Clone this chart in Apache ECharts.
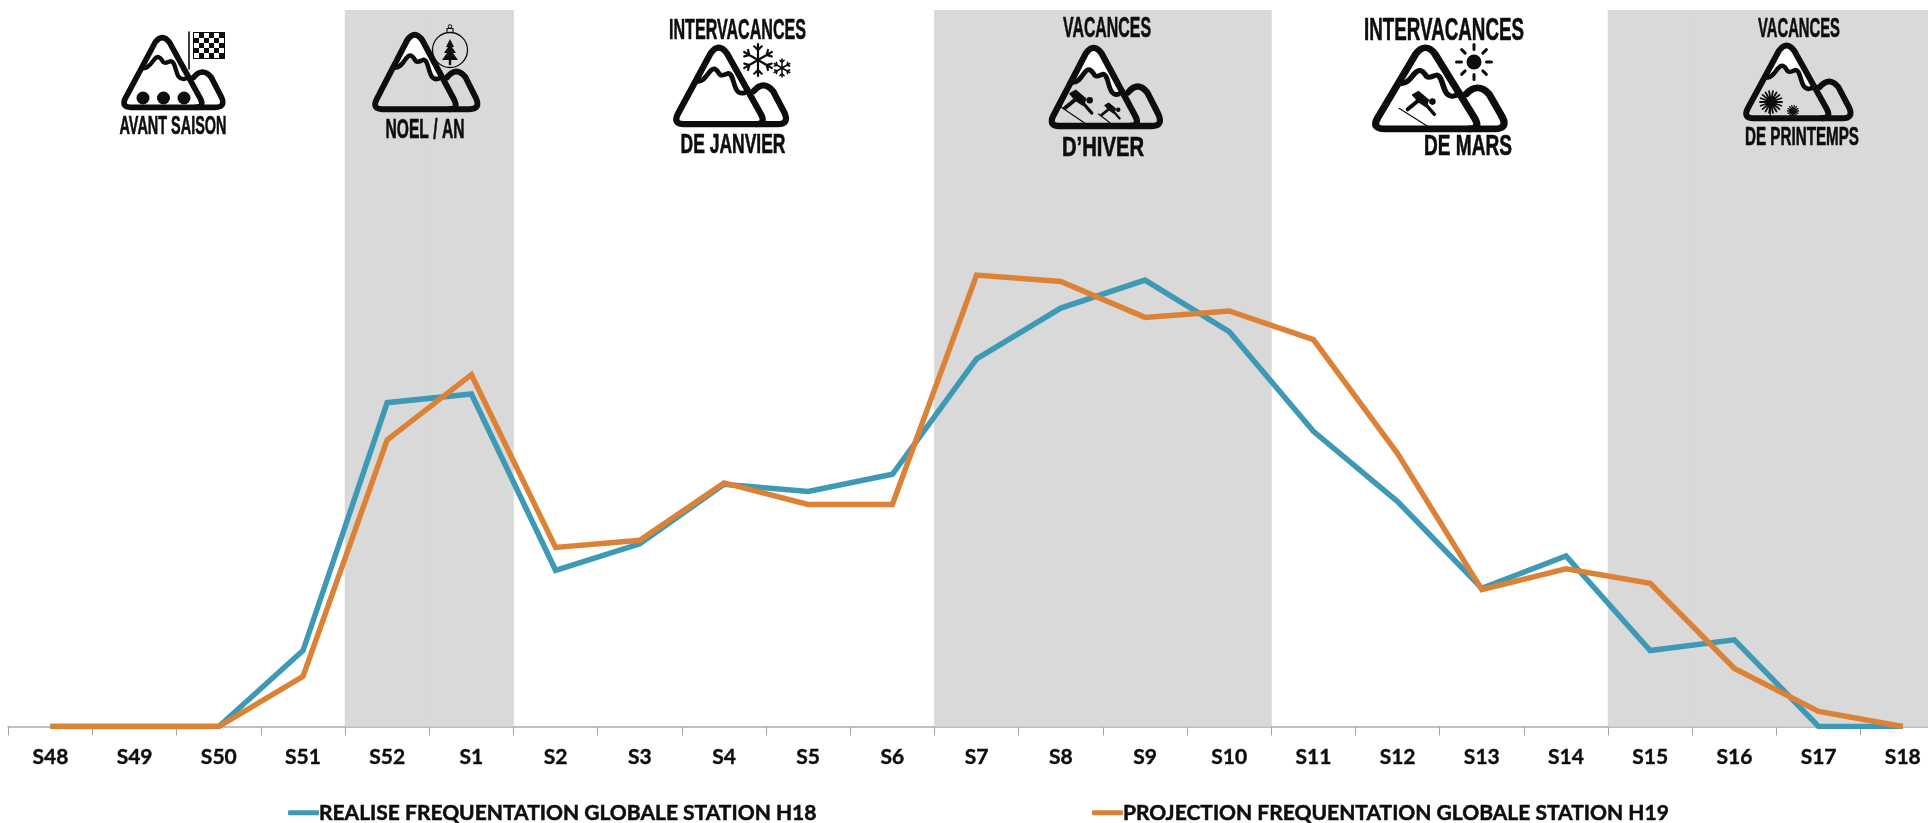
<!DOCTYPE html>
<html lang="fr">
<head>
<meta charset="utf-8">
<title>Fréquentation globale station</title>
<style>
  html, body { margin: 0; padding: 0; background: #fff; overflow: hidden; width: 1928px; height: 823px; }
  /* La dernière semaine déborde à droite : le graphique est plus large que la page */
  #chart { width: 1945px; height: 823px; }
</style>
<script src="https://cdn.jsdelivr.net/npm/echarts@6/dist/echarts.min.js"></script>
</head>
<body>
<div id="chart"></div>
<script>
// Semaines de la saison d'hiver
const weeks = ['S48','S49','S50','S51','S52','S1','S2','S3','S4','S5','S6','S7','S8','S9','S10','S11','S12','S13','S14','S15','S16','S17','S18'];

// Fréquentation globale, en indice (100 = haut du graphique)
const realiseH18 = [0,0,0,10.6,45.2,46.4,21.8,25.5,33.8,32.8,35.2,51.3,58.4,62.3,55.1,41.2,31.4,19.3,23.8,10.6,12.1,0,0];
const projectionH19 = [0,0,0,7.0,40.0,49.1,25.0,26.0,34.0,31.0,31.0,63.0,62.1,57.1,58.0,54.0,38.1,19.1,22.0,20.0,8.1,2.1,0];

// Semaines de vacances scolaires (bandes grises)
const holidayWeeks = ['S52','S1','S7','S8','S9','S10','S15','S16','S17','S18'];

const nameH18 = 'REALISE FREQUENTATION GLOBALE STATION H18';
const nameH19 = 'PROJECTION FREQUENTATION GLOBALE STATION H19';

const BLUE = '#3e99b4', ORANGE = '#dc8237', INK = '#0d0d0d';
const TITLE_FONT = '"Liberation Sans", sans-serif';
const AXIS_FONT = 'Lato, "Liberation Sans", sans-serif';

// Mesure d'un texte pour le ramener à la largeur voulue
const measureCtx = document.createElement('canvas').getContext('2d');
function title(text, cx, cy, capH, width) {
  const size = capH / 0.72;
  const font = 'bold ' + size + 'px ' + TITLE_FONT;
  measureCtx.font = font;
  const scaleX = width / measureCtx.measureText(text).width;
  return { type: 'text', x: cx, y: cy, scaleX, z: 100, silent: true,
    style: { text, font, fill: INK, stroke: INK, lineWidth: 0.6, align: 'center', verticalAlign: 'middle' } };
}

// Le composant graphic ne connaît que les formes enregistrées : chaque tracé SVG devient une forme
let shapeCount = 0;
function svgPath(d, style, z) {
  const type = 'tracePicto' + (shapeCount++);
  echarts.graphic.registerShape(type, echarts.graphic.extendPath(d, {}));
  return { type, z: z || 100, silent: true, style };
}

// Pictogramme de montagne, dessiné dans un repère propre puis mis à l'échelle
const SNOW = 'C 205 205 212 190 222 178 C 232 165 240 172 246 182 C 252 195 262 185 272 183 C 285 185 285 215 295 230 C 305 242 318 238 325 228';
function mountain(left, bottom, sx, sy) {
  const line = (d, w) => svgPath(d, { fill: 'none', stroke: INK, lineWidth: w, lineJoin: 'round', lineCap: 'round' });
  return { type: 'group', x: left - 125 * sx, y: bottom - 330 * sy, scaleX: sx, scaleY: sy, silent: true, children: [
    svgPath('M 190 205 ' + SNOW + ' L 268 128 Q 245 96 224 128 Z', { fill: '#fff' }, 99),
    line('M 152 322 L 347 322 Q 374 322 360 295 L 268 128 Q 246 97 224 128 L 135 295 Q 122 322 152 322 Z', 17),
    line('M 340 232 Q 367 200 393 232 L 423 290 Q 438 322 405 322 L 347 322', 17),
    line('M 190 205 ' + SNOW, 13)
  ]};
}

function strokePath(d, w) {
  return svgPath(d, { fill: 'none', stroke: INK, lineWidth: w, lineCap: 'round', lineJoin: 'round' });
}
function disc(cx, cy, r) {
  return { type: 'circle', z: 100, silent: true, shape: { cx, cy, r }, style: { fill: INK } };
}
function ring(cx, cy, r, w) {
  return { type: 'circle', z: 100, silent: true, shape: { cx, cy, r }, style: { fill: 'none', stroke: INK, lineWidth: w } };
}

// Drapeau à damier
function flag(x, y, cols, rows, cell) {
  const items = [
    strokePath('M ' + (x - 4) + ' ' + y + ' L ' + (x - 4) + ' ' + (y + 37), 1.6),
    { type: 'rect', z: 100, silent: true, shape: { x, y, width: cols * cell + 2, height: rows * cell + 2 }, style: { fill: INK } }
  ];
  for (let r = 0; r < rows; r++) for (let c = 0; c < cols; c++) {
    if ((r + c) % 2 === 0) {
      items.push({ type: 'rect', z: 101, silent: true,
        shape: { x: x + 1 + c * cell, y: y + 1 + r * cell, width: cell, height: cell }, style: { fill: '#fff' } });
    }
  }
  return items;
}

// Flocon à six branches
function snowflake(cx, cy, r, w) {
  let d = '';
  for (let i = 0; i < 6; i++) {
    const a = i * Math.PI / 3 + Math.PI / 6;
    const px = t => cx + Math.cos(a) * t, py = t => cy + Math.sin(a) * t;
    d += 'M ' + cx + ' ' + cy + ' L ' + px(r) + ' ' + py(r) + ' ';
    for (const side of [-1, 1]) {
      const b = a + side * Math.PI / 4;
      d += 'M ' + px(r * 0.62) + ' ' + py(r * 0.62) + ' L ' + (px(r * 0.62) + Math.cos(b) * r * 0.33) + ' ' + (py(r * 0.62) + Math.sin(b) * r * 0.33) + ' ';
    }
  }
  return strokePath(d, w);
}

// Soleil : disque et rayons en pétales
function sun(cx, cy, r, rayIn, rayOut) {
  let d = '';
  for (let i = 0; i < 8; i++) {
    const a = i * Math.PI / 4;
    d += 'M ' + (cx + Math.cos(a) * rayIn) + ' ' + (cy + Math.sin(a) * rayIn) + ' L ' + (cx + Math.cos(a) * rayOut) + ' ' + (cy + Math.sin(a) * rayOut) + ' ';
  }
  return [disc(cx, cy, r), strokePath(d, 3)];
}

// Fleur rayonnante sur sa tige
function flower(cx, cy, r, spokes, stem) {
  let d = '';
  for (let i = 0; i < spokes; i++) {
    const a = i * 2 * Math.PI / spokes;
    d += 'M ' + cx + ' ' + cy + ' L ' + (cx + Math.cos(a) * r) + ' ' + (cy + Math.sin(a) * r) + ' ';
  }
  return [strokePath(d, r > 8 ? 1.8 : 1.3), disc(cx, cy, r * 0.4),
    strokePath('M ' + cx + ' ' + cy + ' L ' + (cx - 1) + ' ' + (cy + stem), 1.2)];
}

// Skieur accroupi et sa piste
function skier(cx, cy, s, slope) {
  const at = (x, y) => (cx + x * s) + ' ' + (cy + y * s);
  return [
    disc(cx + 10.7 * s, cy - 1.7 * s, 3.3 * s),
    svgPath('M ' + at(-9, -8.3) + ' L ' + at(-3.3, -11.7) + ' L ' + at(6.7, -3.3) + ' L ' + at(4.3, 3.3) + ' L ' + at(-3.3, -1.7) + ' Z',
      { fill: INK, stroke: INK, lineWidth: 1.5 * s, lineJoin: 'round' }),
    strokePath('M ' + at(-3, -3) + ' L ' + at(-14, 6), 4 * s),
    strokePath('M ' + at(4, 1) + ' L ' + at(12.7, 11), 3.4 * s),
    strokePath('M ' + slope[0] + ' ' + slope[1] + ' L ' + slope[2] + ' ' + slope[3], 1.2)
  ];
}

// Boule de Noël contenant un sapin
function bauble(cx, cy, r) {
  const t = y => cy + y;
  return [
    ring(cx, cy, r, 1.3),
    strokePath('M ' + (cx - 3) + ' ' + (cy - r - 1) + ' L ' + (cx - 3) + ' ' + (cy - r - 4) + ' L ' + (cx + 3) + ' ' + (cy - r - 4) + ' L ' + (cx + 3) + ' ' + (cy - r - 1), 1.2),
    ring(cx, cy - r - 6, 1.8, 1),
    svgPath('M ' + cx + ' ' + t(-11) + ' L ' + (cx + 4) + ' ' + t(-3) + ' L ' + (cx + 2) + ' ' + t(-3) + ' L ' + (cx + 6) + ' ' + t(3) + ' L ' + (cx + 3) + ' ' + t(3) + ' L ' + (cx + 8) + ' ' + t(10) + ' L ' + (cx + 1.2) + ' ' + t(10) + ' L ' + (cx + 1.2) + ' ' + t(15) + ' L ' + (cx - 1.2) + ' ' + t(15) + ' L ' + (cx - 1.2) + ' ' + t(10) + ' L ' + (cx - 8) + ' ' + t(10) + ' L ' + (cx - 3) + ' ' + t(3) + ' L ' + (cx - 6) + ' ' + t(3) + ' L ' + (cx - 2) + ' ' + t(-3) + ' L ' + (cx - 4) + ' ' + t(-3) + ' Z', { fill: INK })
  ];
}

const decorations = [
  // Avant saison
  mountain(122, 110, 0.333, 0.333),
  disc(143, 98, 6.5), disc(163.5, 98, 6.5), disc(184, 98, 6.5),
  ...flag(193, 32, 6, 5, 5),
  title('AVANT SAISON', 173, 127, 19, 107),
  // Noël / Nouvel An
  mountain(373, 112, 0.345, 0.355),
  ...bauble(450, 50, 17.5),
  title('NOEL / AN', 425, 130, 20, 79),
  // Intervacances de janvier
  mountain(674, 127, 0.37, 0.365),
  snowflake(758, 60, 16, 2.2),
  snowflake(782, 68, 9, 1.5),
  title('INTERVACANCES', 737.5, 30.5, 21, 137),
  title('DE JANVIER', 733, 145, 20, 105),
  // Vacances d'hiver
  mountain(1049.5, 129, 0.365, 0.373),
  ...skier(1079, 102, 1, [1061, 107, 1086, 124]),
  ...skier(1111, 111, 0.68, [1098.5, 114, 1111.5, 124]),
  title('VACANCES', 1107, 29, 21, 88),
  title('D\u2019HIVER', 1103, 148, 20, 82),
  // Intervacances de mars
  mountain(1373, 132, 0.433, 0.387),
  ...sun(1474, 62, 7.5, 12.5, 17.5),
  ...skier(1421.7, 103.3, 1, [1399, 108.3, 1428.3, 126.7]),
  title('INTERVACANCES', 1444, 31.5, 23, 160),
  title('DE MARS', 1468, 146.5, 21, 88),
  // Vacances de printemps
  mountain(1744, 121, 0.352, 0.347),
  ...flower(1771, 102, 11, 18, 17),
  ...flower(1793, 111, 5.5, 14, 8),
  title('VACANCES', 1799, 29, 20, 82),
  title('DE PRINTEMPS', 1802, 137.5, 19, 114)
];

const legendBase = {
  top: 802, padding: 0, itemWidth: 31, itemHeight: 5, icon: 'roundRect',
  textStyle: { fontFamily: AXIS_FONT, fontWeight: 'bold', fontSize: 21, color: INK,
    textBorderColor: INK, textBorderWidth: 0.5, padding: [0, 0, 0, -5] }
};

const chart = echarts.init(document.getElementById('chart'), null, { renderer: 'canvas' });
chart.setOption({
  animation: false,
  backgroundColor: '#fff',
  grid: { left: 8.3, top: 10, width: 1936.6, height: 716.5, containLabel: false },
  legend: [
    Object.assign({ left: 288, data: [nameH18] }, legendBase),
    Object.assign({ left: 1092, data: [nameH19] }, legendBase)
  ],
  xAxis: {
    type: 'category', data: weeks, boundaryGap: true,
    axisLine: { lineStyle: { color: '#bfbfbf', width: 2 } },
    axisTick: { show: true, interval: 0, length: 9, lineStyle: { color: '#a6a6a6', width: 1 } },
    axisLabel: { interval: 0, margin: 20, fontFamily: AXIS_FONT, fontWeight: 'bold', fontSize: 21, color: INK,
      textBorderColor: INK, textBorderWidth: 0.4 }
  },
  yAxis: { type: 'value', min: 0, max: 100, show: false, splitLine: { show: false } },
  series: [
    { type: 'bar', name: 'Vacances scolaires', barWidth: 85, z: 1, silent: true,
      itemStyle: { color: '#d9d9d9' },
      data: weeks.map(w => holidayWeeks.includes(w) ? 100 : null) },
    { type: 'line', name: nameH18, data: realiseH18, showSymbol: false, z: 3, silent: true,
      lineStyle: { color: BLUE, width: 5.5, join: 'miter' }, itemStyle: { color: BLUE } },
    { type: 'line', name: nameH19, data: projectionH19, showSymbol: false, z: 4, silent: true,
      lineStyle: { color: ORANGE, width: 5.5, join: 'miter' }, itemStyle: { color: ORANGE } }
  ],
  graphic: { elements: decorations }
});
</script>
</body>
</html>
